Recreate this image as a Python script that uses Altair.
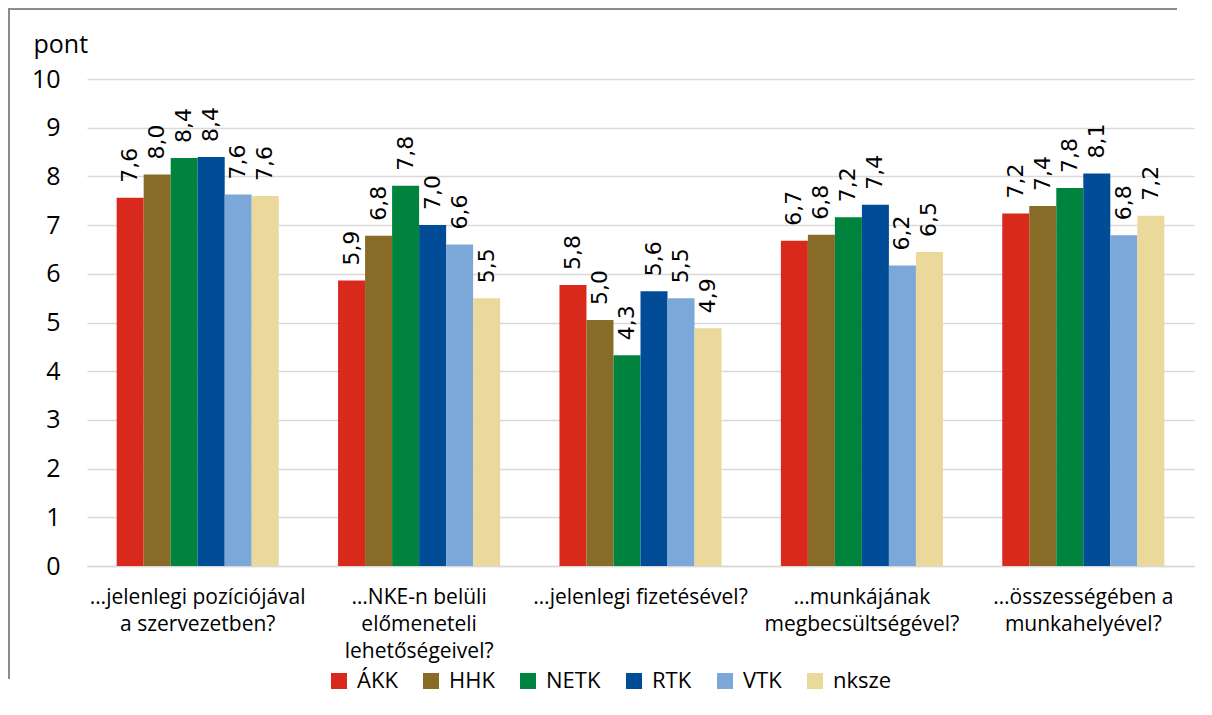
import altair as alt
import pandas as pd

categories = [
    "…jelenlegi pozíciójával\na szervezetben?",
    "…NKE-n belüli\nelőmeneteli\nlehetőségeivel?",
    "…jelenlegi fizetésével?",
    "…munkájának\nmegbecsültségével?",
    "…összességében a\nmunkahelyével?",
]
series = ["ÁKK", "HHK", "NETK", "RTK", "VTK", "nksze"]
colors = ["#d9291c", "#876b27", "#00843d", "#004c97", "#7ba7d9", "#ebd89b"]

akk = [7.56, 5.86, 5.77, 6.68, 7.24]
hhk = [8.04, 6.78, 5.05, 6.80, 7.39]
netk = [8.38, 7.81, 4.33, 7.16, 7.76]
rtk = [8.40, 7.00, 5.64, 7.42, 8.06]
vtk = [7.63, 6.60, 5.50, 6.17, 6.79]
nksze = [7.60, 5.50, 4.88, 6.45, 7.19]

values = {"ÁKK": akk, "HHK": hhk, "NETK": netk, "RTK": rtk, "VTK": vtk, "nksze": nksze}

rows = []
for s in series:
    for c, v in zip(categories, values[s]):
        rows.append({"kat": c, "csoport": s, "ertek": v})
df = pd.DataFrame(rows)

FONT = "Open Sans"

base = alt.Chart(df).transform_calculate(
    felirat="replace(format(datum.ertek, '.1f'), '.', ',')"
)

x_enc = alt.X(
    "kat:N",
    sort=categories,
    scale=alt.Scale(paddingInner=0.268, paddingOuter=0.134),
    axis=alt.Axis(
        title=None,
        labelAngle=0,
        labelExpr="split(datum.label, '\\n')",
        labelFontSize=21,
        labelLineHeight=27,
        labelFont=FONT,
        labelColor="#000000",
        labelPadding=20,
        labelBaseline="top",
        labelLimit=600,
        ticks=False,
        domain=True,
        domainColor="#d9d9d9",
        domainWidth=1.5,
        grid=False,
    ),
)
xoff = alt.XOffset("csoport:N", sort=series, scale=alt.Scale(paddingInner=0, paddingOuter=0))

y_enc = alt.Y(
    "ertek:Q",
    scale=alt.Scale(domain=[0, 10], nice=False),
    axis=alt.Axis(
        title="pont",
        titleAngle=0,
        titleAlign="left",
        titleBaseline="alphabetic",
        titleX=-54,
        titleY=-27,
        titleFont=FONT,
        titleFontSize=25,
        titleFontWeight="normal",
        titleColor="#000000",
        values=list(range(0, 11)),
        labelFont=FONT,
        labelFontSize=25,
        labelColor="#000000",
        labelPadding=27,
        ticks=False,
        domain=False,
        grid=True,
        gridColor="#d9d9d9",
        gridWidth=1.5,
    ),
)

bars = base.mark_bar().encode(
    x=x_enc,
    xOffset=xoff,
    y=y_enc,
    color=alt.Color(
        "csoport:N",
        sort=series,
        scale=alt.Scale(domain=series, range=colors),
        legend=alt.Legend(
            title=None,
            orient="none",
            direction="horizontal",
            legendX=241,
            legendY=591,
            symbolType="square",
            symbolSize=256,
            symbolStrokeWidth=0,
            labelFont=FONT,
            labelFontSize=22,
            labelColor="#000000",
            labelOffset=7,
            columnPadding=22,
            padding=0,
        ),
    ),
)

labels = base.mark_text(
    angle=270,
    align="left",
    baseline="middle",
    dx=15,
    font="DejaVu Sans",
    fontSize=22,
    color="#000000",
).encode(
    x=alt.X("kat:N", sort=categories),
    xOffset=alt.XOffset("csoport:N", sort=series),
    y=alt.Y("ertek:Q"),
    text="felirat:N",
)

frame_top_df = pd.DataFrame({"szel": ["felso"]})
frame_left_df = pd.DataFrame({"szel": ["bal"]})
frame_top = alt.Chart(frame_top_df).mark_rect(color="#8c8c8c", strokeWidth=0).encode(
    x=alt.value(-79), x2=alt.value(1090), y=alt.value(-71), y2=alt.value(-69)
)
frame_left = alt.Chart(frame_left_df).mark_rect(color="#8c8c8c", strokeWidth=0).encode(
    x=alt.value(-79), x2=alt.value(-77), y=alt.value(-71), y2=alt.value(600)
)

chart = alt.layer(frame_top, frame_left, bars, labels).properties(
    width=1107,
    height=487,
    padding={"left": 79, "top": 71, "right": 10, "bottom": 130},
    autosize=alt.AutoSizeParams(type="none"),
    background="white",
).configure_view(stroke=None)

chart.save("out.html", embed_options={"renderer": "svg", "actions": False})
